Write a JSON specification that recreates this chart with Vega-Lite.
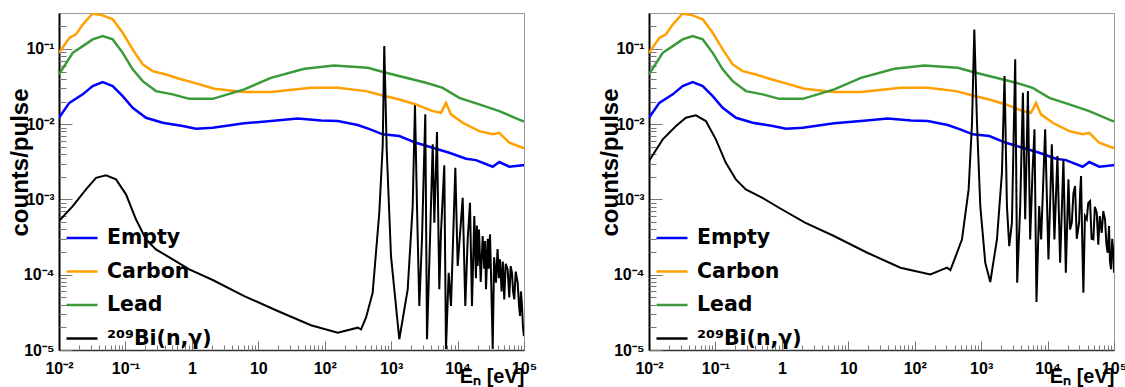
{
  "$schema": "https://vega.github.io/schema/vega-lite/v6.json",
  "background": "white",
  "padding": {"left": 7, "top": 12, "right": 0, "bottom": 0},
  "bounds": "flush",
  "spacing": 125,
  "config": {
    "view": {"stroke": "#999999", "strokeWidth": 1},
    "font": "Liberation Sans",
    "axis": {"labelFont": "Liberation Sans", "labelFontWeight": "bold", "labelFontSize": 16, "labelColor": "black", "titleFont": "Liberation Sans", "titleFontWeight": "bold", "titleColor": "black", "grid": false, "tickColor": "#777777", "tickWidth": 1},
    "legend": {"orient": "none", "legendX": 6, "legendY": 208, "title": null, "labelFontSize": 20.5, "labelFont": "DejaVu Sans", "labelFontWeight": "bold", "labelColor": "black", "symbolType": "stroke", "symbolSize": 961, "symbolStrokeWidth": 2.5, "labelOffset": 8, "rowPadding": 5.5, "padding": 0}
  },
  "resolve": {"scale": {"color": "independent", "x": "independent", "y": "independent"}, "legend": {"color": "independent"}},
  "datasets": {
    "bg": [
      {"E": 0.01, "v": 0.088, "s": "Carbon"}, {"E": 0.0143, "v": 0.14, "s": "Carbon"}, {"E": 0.018, "v": 0.156, "s": "Carbon"}, {"E": 0.0228, "v": 0.211, "s": "Carbon"}, {"E": 0.0321, "v": 0.296, "s": "Carbon"}, {"E": 0.0455, "v": 0.279, "s": "Carbon"}, {"E": 0.0643, "v": 0.247, "s": "Carbon"}, {"E": 0.091, "v": 0.164, "s": "Carbon"}, {"E": 0.1285, "v": 0.0984, "s": "Carbon"}, {"E": 0.182, "v": 0.0622, "s": "Carbon"}, {"E": 0.257, "v": 0.0507, "s": "Carbon"}, {"E": 0.408, "v": 0.0458, "s": "Carbon"}, {"E": 0.647, "v": 0.0401, "s": "Carbon"}, {"E": 1.154, "v": 0.0348, "s": "Carbon"}, {"E": 2.18, "v": 0.0295, "s": "Carbon"}, {"E": 6.1, "v": 0.0267, "s": "Carbon"}, {"E": 15.5, "v": 0.0267, "s": "Carbon"}, {"E": 62.1, "v": 0.0304, "s": "Carbon"}, {"E": 158, "v": 0.0304, "s": "Carbon"}, {"E": 418, "v": 0.0275, "s": "Carbon"}, {"E": 746, "v": 0.0241, "s": "Carbon"}, {"E": 1327, "v": 0.0213, "s": "Carbon"}, {"E": 2366, "v": 0.0183, "s": "Carbon"}, {"E": 4224, "v": 0.0149, "s": "Carbon"}, {"E": 5623, "v": 0.01415, "s": "Carbon"}, {"E": 6693, "v": 0.0192, "s": "Carbon"}, {"E": 7962, "v": 0.0135, "s": "Carbon"}, {"E": 11940, "v": 0.01045, "s": "Carbon"}, {"E": 21230, "v": 0.00809, "s": "Carbon"}, {"E": 33800, "v": 0.00733, "s": "Carbon"}, {"E": 42460, "v": 0.00769, "s": "Carbon"}, {"E": 60100, "v": 0.00566, "s": "Carbon"}, {"E": 95500, "v": 0.00486, "s": "Carbon"}, {"E": 100000, "v": 0.0048, "s": "Carbon"},
      {"E": 0.01, "v": 0.0458, "s": "Lead"}, {"E": 0.0161, "v": 0.0887, "s": "Lead"}, {"E": 0.0228, "v": 0.1089, "s": "Lead"}, {"E": 0.0321, "v": 0.1337, "s": "Lead"}, {"E": 0.0455, "v": 0.148, "s": "Lead"}, {"E": 0.0643, "v": 0.1337, "s": "Lead"}, {"E": 0.091, "v": 0.0887, "s": "Lead"}, {"E": 0.1285, "v": 0.0535, "s": "Lead"}, {"E": 0.182, "v": 0.0373, "s": "Lead"}, {"E": 0.288, "v": 0.0275, "s": "Lead"}, {"E": 0.515, "v": 0.0249, "s": "Lead"}, {"E": 0.914, "v": 0.0217, "s": "Lead"}, {"E": 2.06, "v": 0.0217, "s": "Lead"}, {"E": 6.15, "v": 0.029, "s": "Lead"}, {"E": 15.5, "v": 0.0413, "s": "Lead"}, {"E": 49.3, "v": 0.0545, "s": "Lead"}, {"E": 139, "v": 0.0604, "s": "Lead"}, {"E": 444, "v": 0.0561, "s": "Lead"}, {"E": 836, "v": 0.0482, "s": "Lead"}, {"E": 1674, "v": 0.0413, "s": "Lead"}, {"E": 3350, "v": 0.0355, "s": "Lead"}, {"E": 5970, "v": 0.0304, "s": "Lead"}, {"E": 10620, "v": 0.0224, "s": "Lead"}, {"E": 21230, "v": 0.0183, "s": "Lead"}, {"E": 42460, "v": 0.0149, "s": "Lead"}, {"E": 95500, "v": 0.011, "s": "Lead"}, {"E": 100000, "v": 0.0109, "s": "Lead"},
      {"E": 0.01, "v": 0.01216, "s": "Empty"}, {"E": 0.0143, "v": 0.0192, "s": "Empty"}, {"E": 0.0228, "v": 0.0249, "s": "Empty"}, {"E": 0.0321, "v": 0.0321, "s": "Empty"}, {"E": 0.0455, "v": 0.0362, "s": "Empty"}, {"E": 0.0643, "v": 0.0321, "s": "Empty"}, {"E": 0.091, "v": 0.0236, "s": "Empty"}, {"E": 0.1285, "v": 0.0165, "s": "Empty"}, {"E": 0.204, "v": 0.01216, "s": "Empty"}, {"E": 0.364, "v": 0.01045, "s": "Empty"}, {"E": 0.728, "v": 0.00944, "s": "Empty"}, {"E": 1.154, "v": 0.00869, "s": "Empty"}, {"E": 2.06, "v": 0.00895, "s": "Empty"}, {"E": 6.15, "v": 0.01026, "s": "Empty"}, {"E": 15.5, "v": 0.011, "s": "Empty"}, {"E": 39.2, "v": 0.01194, "s": "Empty"}, {"E": 87.9, "v": 0.01122, "s": "Empty"}, {"E": 157, "v": 0.011, "s": "Empty"}, {"E": 314, "v": 0.00973, "s": "Empty"}, {"E": 485, "v": 0.00853, "s": "Empty"}, {"E": 746, "v": 0.00733, "s": "Empty"}, {"E": 1327, "v": 0.00695, "s": "Empty"}, {"E": 2366, "v": 0.00566, "s": "Empty"}, {"E": 4224, "v": 0.00486, "s": "Empty"}, {"E": 7500, "v": 0.00417, "s": "Empty"}, {"E": 13390, "v": 0.00347, "s": "Empty"}, {"E": 18930, "v": 0.00333, "s": "Empty"}, {"E": 33800, "v": 0.00272, "s": "Empty"}, {"E": 42460, "v": 0.00314, "s": "Empty"}, {"E": 60100, "v": 0.00272, "s": "Empty"}, {"E": 95500, "v": 0.00284, "s": "Empty"}, {"E": 100000, "v": 0.00284, "s": "Empty"}
    ],
    "biL": [
      {"E": 0.01, "v": 0.000516}, {"E": 0.0161, "v": 0.000816}, {"E": 0.0255, "v": 0.00136}, {"E": 0.0361, "v": 0.00194}, {"E": 0.051, "v": 0.00209}, {"E": 0.0721, "v": 0.00185}, {"E": 0.102, "v": 0.00117}, {"E": 0.144, "v": 0.000545}, {"E": 0.204, "v": 0.000295}, {"E": 0.288, "v": 0.000217}, {"E": 0.515, "v": 0.00016}, {"E": 0.914, "v": 0.000118}, {"E": 2.06, "v": 0.0000851}, {"E": 6.15, "v": 0.0000521}, {"E": 19.6, "v": 0.000033}, {"E": 62.1, "v": 0.0000213}, {"E": 157, "v": 0.000017}, {"E": 314, "v": 0.0000198}, {"E": 352, "v": 0.0000188}, {"E": 418, "v": 0.0000269}, {"E": 527, "v": 0.0000577}, {"E": 663, "v": 0.000665}, {"E": 746, "v": 0.00512}, {"E": 788, "v": 0.109}, {"E": 857, "v": 0.00467}, {"E": 995, "v": 0.000177}, {"E": 1327, "v": 0.0000139}, {"E": 1775, "v": 0.000064}, {"E": 2110, "v": 0.000816}, {"E": 2285, "v": 0.0178}, {"E": 2449, "v": 0.000816}, {"E": 2654, "v": 0.0000384}, {"E": 2912, "v": 0.000295}, {"E": 3266, "v": 0.0135}, {"E": 3467, "v": 0.0000139}, {"E": 3846, "v": 0.000295}, {"E": 4224, "v": 0.0054}, {"E": 4467, "v": 0.000491}, {"E": 4898, "v": 0.00785}, {"E": 5309, "v": 0.000064}, {"E": 5623, "v": 0.000361}, {"E": 6310, "v": 0.00284}, {"E": 6693, "v": 0.0000103}, {"E": 7350, "v": 0.000106}, {"E": 7962, "v": 0.0000384}, {"E": 9250, "v": 0.00264}, {"E": 10040, "v": 0.000131}, {"E": 11940, "v": 0.00105}, {"E": 13070, "v": 0.0000384}, {"E": 14200, "v": 0.000295}, {"E": 15380, "v": 0.000904}, {"E": 16480, "v": 0.0000384}, {"E": 17860, "v": 0.000603}, {"E": 18900, "v": 0.00009}, {"E": 19500, "v": 0.00045}, {"E": 20090, "v": 0.000131}, {"E": 21000, "v": 0.0004}, {"E": 22300, "v": 0.00008}, {"E": 23880, "v": 0.000327}, {"E": 25200, "v": 0.00012}, {"E": 26000, "v": 0.00028}, {"E": 26790, "v": 0.000064}, {"E": 28500, "v": 0.0003}, {"E": 29500, "v": 0.00012}, {"E": 30760, "v": 0.000344}, {"E": 32000, "v": 0.00009}, {"E": 33800, "v": 0.0000103}, {"E": 35500, "v": 0.00017}, {"E": 37850, "v": 0.0000784}, {"E": 40000, "v": 0.00022}, {"E": 41800, "v": 0.00009}, {"E": 43550, "v": 0.00016}, {"E": 46000, "v": 0.00006}, {"E": 48000, "v": 0.00015}, {"E": 50470, "v": 0.0000471}, {"E": 53000, "v": 0.00014}, {"E": 56750, "v": 0.000118}, {"E": 60000, "v": 0.00005}, {"E": 63000, "v": 0.00013}, {"E": 65920, "v": 0.000106}, {"E": 68500, "v": 0.00006}, {"E": 71450, "v": 0.0000471}, {"E": 75000, "v": 0.00011}, {"E": 80350, "v": 0.0000784}, {"E": 84000, "v": 0.00004}, {"E": 87070, "v": 0.0000283}, {"E": 90000, "v": 0.00006}, {"E": 93300, "v": 0.0000384}, {"E": 96500, "v": 0.00002}, {"E": 100000, "v": 0.0000153}
    ],
    "biR": [
      {"E": 0.01, "v": 0.00324}, {"E": 0.0161, "v": 0.00628}, {"E": 0.0255, "v": 0.00944}, {"E": 0.036, "v": 0.01216}, {"E": 0.0508, "v": 0.01309}, {"E": 0.0718, "v": 0.011}, {"E": 0.1015, "v": 0.00628}, {"E": 0.1436, "v": 0.00307}, {"E": 0.2028, "v": 0.00185}, {"E": 0.2864, "v": 0.00136}, {"E": 0.51, "v": 0.00105}, {"E": 0.906, "v": 0.000776}, {"E": 2.23, "v": 0.000491}, {"E": 6.08, "v": 0.000327}, {"E": 19.3, "v": 0.000196}, {"E": 61, "v": 0.000124}, {"E": 172, "v": 0.000101}, {"E": 307, "v": 0.000124}, {"E": 344, "v": 0.000115}, {"E": 434, "v": 0.000196}, {"E": 515, "v": 0.000295}, {"E": 648, "v": 0.00136}, {"E": 729, "v": 0.01045}, {"E": 789, "v": 0.1815}, {"E": 866, "v": 0.01045}, {"E": 971, "v": 0.000816}, {"E": 1154, "v": 0.000144}, {"E": 1372, "v": 0.00008}, {"E": 1730, "v": 0.000295}, {"E": 2056, "v": 0.00226}, {"E": 2250, "v": 0.0436}, {"E": 2445, "v": 0.000816}, {"E": 2648, "v": 0.00024}, {"E": 2905, "v": 0.000491}, {"E": 3258, "v": 0.0726}, {"E": 3490, "v": 0.0000784}, {"E": 3872, "v": 0.000816}, {"E": 4254, "v": 0.0261}, {"E": 4603, "v": 0.000545}, {"E": 5058, "v": 0.0275}, {"E": 5470, "v": 0.000295}, {"E": 5929, "v": 0.00226}, {"E": 6353, "v": 0.00853}, {"E": 6807, "v": 0.0000434}, {"E": 7468, "v": 0.000816}, {"E": 8002, "v": 0.000295}, {"E": 9200, "v": 0.00853}, {"E": 10310, "v": 0.00016}, {"E": 11590, "v": 0.0054}, {"E": 12680, "v": 0.000295}, {"E": 14070, "v": 0.00377}, {"E": 15450, "v": 0.000144}, {"E": 17330, "v": 0.00341}, {"E": 18830, "v": 0.000106}, {"E": 20600, "v": 0.00185}, {"E": 21800, "v": 0.0004}, {"E": 23170, "v": 0.000491}, {"E": 24500, "v": 0.0012}, {"E": 25950, "v": 0.00151}, {"E": 27500, "v": 0.0003}, {"E": 29800, "v": 0.000491}, {"E": 31000, "v": 0.0013}, {"E": 31920, "v": 0.00205}, {"E": 33000, "v": 0.0004}, {"E": 34590, "v": 0.0000577}, {"E": 36500, "v": 0.0006}, {"E": 38900, "v": 0.000545}, {"E": 41000, "v": 0.0009}, {"E": 43620, "v": 0.000953}, {"E": 46000, "v": 0.0003}, {"E": 48900, "v": 0.000295}, {"E": 51500, "v": 0.0008}, {"E": 54970, "v": 0.000665}, {"E": 58000, "v": 0.00025}, {"E": 61000, "v": 0.0006}, {"E": 65340, "v": 0.000361}, {"E": 69000, "v": 0.0007}, {"E": 73270, "v": 0.000545}, {"E": 77000, "v": 0.00025}, {"E": 80500, "v": 0.000196}, {"E": 84200, "v": 0.000444}, {"E": 87000, "v": 0.00015}, {"E": 90200, "v": 0.000118}, {"E": 94000, "v": 0.0003}, {"E": 97700, "v": 0.000196}, {"E": 100000, "v": 0.000106}
    ]
  },
  "hconcat": [
    {
      "width": 465, "height": 337,
      "resolve": {"axis": {"x": "independent", "y": "independent"}},
      "layer": [
        {
          "data": {"name": "bg"},
          "mark": {"type": "line", "strokeWidth": 2.5, "clip": true},
          "encoding": {
            "x": {"field": "E", "type": "quantitative", "scale": {"type": "log", "domain": [0.01, 100000], "nice": false},
              "axis": {"orient": "bottom", "values": [0.01, 0.1, 1, 10, 100, 1000, 10000, 100000], "labelExpr": "datum.value < 0.05 ? '10⁻²' : datum.value < 0.5 ? '10⁻¹' : datum.value < 5 ? '1' : datum.value < 50 ? '10' : datum.value < 500 ? '10²' : datum.value < 5000 ? '10³' : datum.value < 50000 ? '10⁴' : '10⁵'", "labelFlush": false, "labelOverlap": false, "tickSize": -9, "labelPadding": 19, "domainColor": "#333333", "domainWidth": 1.5, "title": "Eₙ [eV]", "titleFontSize": 20, "titleAlign": "right", "titleX": 465, "titleY": 16, "titleBaseline": "top"}},
            "y": {"field": "v", "type": "quantitative", "scale": {"type": "log", "domain": [0.00001, 0.3], "nice": false},
              "axis": {"orient": "left", "values": [0.00001, 0.0001, 0.001, 0.01, 0.1], "labelExpr": "datum.value < 0.00005 ? '10⁻⁵' : datum.value < 0.0005 ? '10⁻⁴' : datum.value < 0.005 ? '10⁻³' : datum.value < 0.05 ? '10⁻²' : '10⁻¹'", "labelFlush": false, "labelOverlap": false, "tickSize": -13, "labelPadding": 18, "domainColor": "black", "domainWidth": 2, "title": "counts/pulse", "titleFontSize": 24, "titleX": -39, "titleY": 149, "titleAlign": "center", "titleBaseline": "middle"}},
            "color": {"field": "s", "type": "nominal", "scale": {"domain": ["Empty", "Carbon", "Lead", "²⁰⁹Bi(n,γ)"], "range": ["#0000ff", "#ffa000", "#3a9a3a", "#000000"]}}
          }
        },
        {
          "data": {"name": "biL"},
          "transform": [{"calculate": "'²⁰⁹Bi(n,γ)'", "as": "s"}],
          "mark": {"type": "line", "strokeWidth": 2, "clip": true},
          "encoding": {
            "x": {"field": "E", "type": "quantitative", "scale": {"type": "log", "domain": [0.01, 100000], "nice": false},
              "axis": {"orient": "bottom", "values": [0.02, 0.03, 0.04, 0.05, 0.06, 0.07, 0.08, 0.09, 0.2, 0.3, 0.4, 0.5, 0.6, 0.7, 0.8, 0.9, 2, 3, 4, 5, 6, 7, 8, 9, 20, 30, 40, 50, 60, 70, 80, 90, 200, 300, 400, 500, 600, 700, 800, 900, 2000, 3000, 4000, 5000, 6000, 7000, 8000, 9000, 20000, 30000, 40000, 50000, 60000, 70000, 80000, 90000], "labels": false, "domain": false, "tickSize": -5, "title": null}},
            "y": {"field": "v", "type": "quantitative", "scale": {"type": "log", "domain": [0.00001, 0.3], "nice": false},
              "axis": {"orient": "left", "values": [0.00002, 0.00003, 0.00004, 0.00005, 0.00006, 0.00007, 0.00008, 0.00009, 0.0002, 0.0003, 0.0004, 0.0005, 0.0006, 0.0007, 0.0008, 0.0009, 0.002, 0.003, 0.004, 0.005, 0.006, 0.007, 0.008, 0.009, 0.02, 0.03, 0.04, 0.05, 0.06, 0.07, 0.08, 0.09, 0.2], "labels": false, "domain": false, "tickSize": -7, "title": null}},
            "color": {"field": "s", "type": "nominal", "scale": {"domain": ["Empty", "Carbon", "Lead", "²⁰⁹Bi(n,γ)"], "range": ["#0000ff", "#ffa000", "#3a9a3a", "#000000"]}}
          }
        }
      ]
    },
    {
      "width": 465, "height": 337,
      "resolve": {"axis": {"x": "independent", "y": "independent"}},
      "layer": [
        {
          "data": {"name": "bg"},
          "mark": {"type": "line", "strokeWidth": 2.5, "clip": true},
          "encoding": {
            "x": {"field": "E", "type": "quantitative", "scale": {"type": "log", "domain": [0.01, 100000], "nice": false},
              "axis": {"orient": "bottom", "values": [0.01, 0.1, 1, 10, 100, 1000, 10000, 100000], "labelExpr": "datum.value < 0.05 ? '10⁻²' : datum.value < 0.5 ? '10⁻¹' : datum.value < 5 ? '1' : datum.value < 50 ? '10' : datum.value < 500 ? '10²' : datum.value < 5000 ? '10³' : datum.value < 50000 ? '10⁴' : '10⁵'", "labelFlush": false, "labelOverlap": false, "tickSize": -9, "labelPadding": 19, "domainColor": "#333333", "domainWidth": 1.5, "title": "Eₙ [eV]", "titleFontSize": 20, "titleAlign": "right", "titleX": 465, "titleY": 16, "titleBaseline": "top"}},
            "y": {"field": "v", "type": "quantitative", "scale": {"type": "log", "domain": [0.00001, 0.3], "nice": false},
              "axis": {"orient": "left", "values": [0.00001, 0.0001, 0.001, 0.01, 0.1], "labelExpr": "datum.value < 0.00005 ? '10⁻⁵' : datum.value < 0.0005 ? '10⁻⁴' : datum.value < 0.005 ? '10⁻³' : datum.value < 0.05 ? '10⁻²' : '10⁻¹'", "labelFlush": false, "labelOverlap": false, "tickSize": -13, "labelPadding": 18, "domainColor": "black", "domainWidth": 2, "title": "counts/pulse", "titleFontSize": 24, "titleX": -39, "titleY": 149, "titleAlign": "center", "titleBaseline": "middle"}},
            "color": {"field": "s", "type": "nominal", "scale": {"domain": ["Empty", "Carbon", "Lead", "²⁰⁹Bi(n,γ)"], "range": ["#0000ff", "#ffa000", "#3a9a3a", "#000000"]}}
          }
        },
        {
          "data": {"name": "biR"},
          "transform": [{"calculate": "'²⁰⁹Bi(n,γ)'", "as": "s"}],
          "mark": {"type": "line", "strokeWidth": 2, "clip": true},
          "encoding": {
            "x": {"field": "E", "type": "quantitative", "scale": {"type": "log", "domain": [0.01, 100000], "nice": false},
              "axis": {"orient": "bottom", "values": [0.02, 0.03, 0.04, 0.05, 0.06, 0.07, 0.08, 0.09, 0.2, 0.3, 0.4, 0.5, 0.6, 0.7, 0.8, 0.9, 2, 3, 4, 5, 6, 7, 8, 9, 20, 30, 40, 50, 60, 70, 80, 90, 200, 300, 400, 500, 600, 700, 800, 900, 2000, 3000, 4000, 5000, 6000, 7000, 8000, 9000, 20000, 30000, 40000, 50000, 60000, 70000, 80000, 90000], "labels": false, "domain": false, "tickSize": -5, "title": null}},
            "y": {"field": "v", "type": "quantitative", "scale": {"type": "log", "domain": [0.00001, 0.3], "nice": false},
              "axis": {"orient": "left", "values": [0.00002, 0.00003, 0.00004, 0.00005, 0.00006, 0.00007, 0.00008, 0.00009, 0.0002, 0.0003, 0.0004, 0.0005, 0.0006, 0.0007, 0.0008, 0.0009, 0.002, 0.003, 0.004, 0.005, 0.006, 0.007, 0.008, 0.009, 0.02, 0.03, 0.04, 0.05, 0.06, 0.07, 0.08, 0.09, 0.2], "labels": false, "domain": false, "tickSize": -7, "title": null}},
            "color": {"field": "s", "type": "nominal", "scale": {"domain": ["Empty", "Carbon", "Lead", "²⁰⁹Bi(n,γ)"], "range": ["#0000ff", "#ffa000", "#3a9a3a", "#000000"]}}
          }
        }
      ]
    }
  ]
}
